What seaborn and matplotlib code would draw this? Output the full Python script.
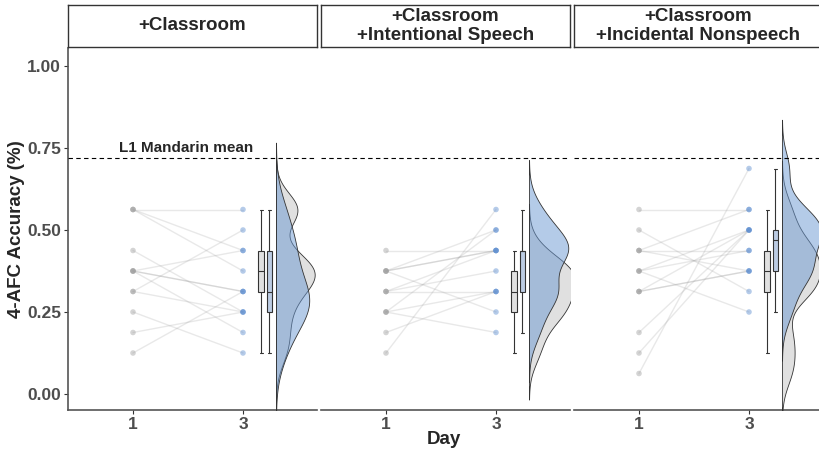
import numpy as np
import pandas as pd
import matplotlib
matplotlib.use("Agg")
import matplotlib.pyplot as plt
from matplotlib.colors import to_rgba
import seaborn as sns

# panel titles
conditions = ["+Classroom",
              "+Classroom\n+Intentional Speech",
              "+Classroom\n+Incidental Nonspeech"]

# accuracy per participant, day 1 and day 3 (same order = same participant)
classroom_day1 = [0.5625, 0.5625, 0.5625, 0.4375, 0.375, 0.375, 0.375, 0.375,
                  0.3125, 0.3125, 0.25, 0.1875, 0.125]
classroom_day3 = [0.5625, 0.4375, 0.375, 0.25, 0.3125, 0.3125, 0.4375, 0.1875,
                  0.5, 0.25, 0.125, 0.25, 0.3125]

speech_day1 = [0.4375, 0.375, 0.375, 0.375, 0.375, 0.3125, 0.3125, 0.3125,
               0.25, 0.25, 0.25, 0.1875, 0.125]
speech_day3 = [0.4375, 0.5, 0.4375, 0.4375, 0.25, 0.4375, 0.375, 0.3125,
               0.5, 0.3125, 0.1875, 0.3125, 0.5625]

nonspeech_day1 = [0.5625, 0.5, 0.4375, 0.4375, 0.4375, 0.375, 0.375, 0.375,
                  0.3125, 0.3125, 0.3125, 0.1875, 0.125, 0.0625]
nonspeech_day3 = [0.5625, 0.3125, 0.5625, 0.4375, 0.375, 0.5, 0.25, 0.4375,
                  0.5, 0.375, 0.375, 0.5, 0.5, 0.6875]

day_labels = ["1", "3"]
l1_mean = 0.72
y_ticks = [0.0, 0.25, 0.50, 0.75, 1.00]

series = [(classroom_day1, classroom_day3),
          (speech_day1, speech_day3),
          (nonspeech_day1, nonspeech_day3)]

# positions along x
day_pos = {"1": 1.0, "3": 2.0}
box_pos = {"1": 2.165, "3": 2.24}
violin_base = 2.30

grey = "#cccccc"
blue = "#6a98d2"
point_pal = {"1": "#a0a0a0", "3": "#5b8ccf"}
box_pal = {"1": "#e0e0e0", "3": "#b5cbe9"}
edge = "#333333"


def nrd0(v):
    v = np.asarray(v)
    q75, q25 = np.percentile(v, [75, 25])
    s = min(v.std(ddof=1), (q75 - q25) / 1.34)
    return 0.9 * s * len(v) ** -0.2


def density(v):
    v = np.asarray(v)
    bw = nrd0(v)
    grid = np.linspace(v.min() - 3 * bw, v.max() + 3 * bw, 300)
    z = (grid[:, None] - v[None, :]) / bw
    d = np.exp(-0.5 * z ** 2).sum(axis=1) / (len(v) * bw * np.sqrt(2 * np.pi))
    return grid, d


sns.set_style("white")
plt.rcParams["font.family"] = ["Liberation Sans", "DejaVu Sans"]

W, H = 819, 454
fig = plt.figure(figsize=(W / 100, H / 100), dpi=100)

dens = [[density(d1), density(d3)] for d1, d3 in series]
dmax = max(d.max() for pair in dens for _, d in pair)
scale = 0.42 / dmax

lefts = [68, 321, 574]
for i, (title, (d1, d3)) in enumerate(zip(conditions, series)):
    rows = []
    for pid, (a, b) in enumerate(zip(d1, d3)):
        rows.append({"id": pid, "day": "1", "acc": a})
        rows.append({"id": pid, "day": "3", "acc": b})
    df = pd.DataFrame(rows)
    df["x"] = df["day"].map(day_pos)
    df["bx"] = df["day"].map(box_pos)

    ax = fig.add_axes([lefts[i] / W, (H - 410) / H, 249 / W, 362 / H])

    sns.lineplot(data=df, x="x", y="acc", units="id", estimator=None,
                 color="#9a9a9a", alpha=0.22, lw=1, ax=ax, legend=False)
    sns.scatterplot(data=df, x="x", y="acc", hue="day", palette=point_pal,
                    s=16, alpha=0.45, linewidth=0, ax=ax, legend=False, zorder=3)
    sns.boxplot(data=df, x="bx", y="acc", hue="day", palette=box_pal,
                native_scale=True, dodge=False, width=0.7, showfliers=False,
                linecolor=edge, linewidth=0.8, ax=ax, legend=False)

    for (grid, d), col, a, z in zip(dens[i], [grey, blue], [0.6, 0.5], [4, 5]):
        ax.fill_betweenx(grid, violin_base, violin_base + d * scale,
                         facecolor=to_rgba(col, a), edgecolor=edge,
                         linewidth=0.6, zorder=z)

    ax.axhline(l1_mean, color="black", ls=(0, (4, 3)), lw=0.8, zorder=6)
    if i == 0:
        ax.text(1.48, l1_mean + 0.008, "L1 Mandarin mean", ha="center",
                va="bottom", fontsize=11, fontweight="bold")

    ax.set_xlim(1 - 65 / 110, 1 + 184 / 110)
    ax.set_ylim(-16 / 328, 1 + 18 / 328)
    ax.set_xticks([day_pos[d] for d in day_labels])
    ax.set_xticklabels(day_labels)
    ax.set_xlabel("")
    ax.set_ylabel("")
    for s in ["top", "right"]:
        ax.spines[s].set_visible(False)
    ax.spines["bottom"].set_color("#555555")
    ax.spines["bottom"].set_linewidth(1.2)
    if i == 0:
        ax.spines["left"].set_color("#555555")
        ax.spines["left"].set_linewidth(1.2)
        ax.set_yticks(y_ticks)
        ax.set_yticklabels([f"{t:.2f}" for t in y_ticks])
    else:
        ax.spines["left"].set_visible(False)
        ax.set_yticks([])
    ax.tick_params(length=3, width=0.8, color="#333333", labelcolor="#4d4d4d",
                   labelsize=12.5, pad=2, left=(i == 0), bottom=True)
    for lab in ax.get_xticklabels() + ax.get_yticklabels():
        lab.set_fontweight("bold")

    sax = fig.add_axes([lefts[i] / W, (H - 47) / H, 249 / W, 42 / H])
    sax.set_xticks([])
    sax.set_yticks([])
    for s in sax.spines.values():
        s.set_visible(True)
        s.set_color("#333333")
        s.set_linewidth(1)
    sax.text(0.5, 0.5, title, ha="center", va="center", fontsize=13.5,
             fontweight="bold", transform=sax.transAxes, linespacing=1.12)

fig.text(17 / W, 1 - 229 / H, "4-AFC Accuracy (%)", rotation=90, ha="center",
         va="center", fontsize=13.5, fontweight="bold")
fig.text(444 / W, 1 - 440 / H, "Day", ha="center", va="center", fontsize=13.5,
         fontweight="bold")

fig.savefig("out.png", dpi=100)
